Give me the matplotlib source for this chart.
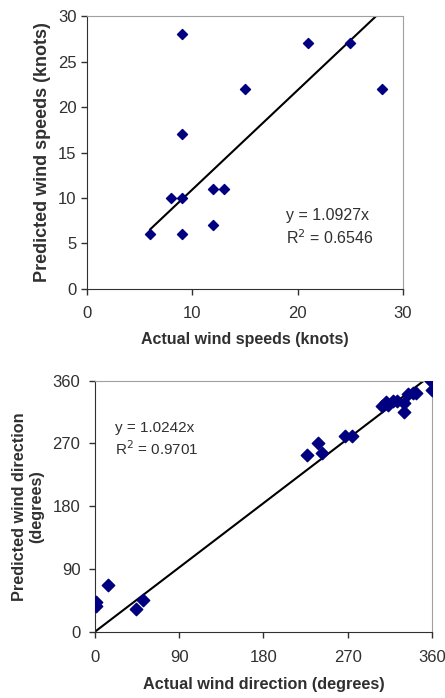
import matplotlib.pyplot as plt
import numpy as np

plt.rcParams['font.family'] = ['Liberation Sans', 'DejaVu Sans']

# wind speed (knots)
speed_actual = [9, 21, 25, 15, 28, 9, 8, 9, 12, 13, 6, 9, 12]
speed_pred = [28, 27, 27, 22, 22, 17, 10, 10, 11, 11, 6, 6, 7]
speed_slope = 1.0927
speed_r2 = 0.6546

# wind direction (degrees)
dir_actual = [0.7, 0.7, 13.5, 43.4, 51, 227, 238, 243, 266.7, 274.5, 307, 311,
              313.3, 318.7, 323, 330, 330, 335, 340, 342.6, 358.6, 360]
dir_pred = [42, 37, 67, 32, 45, 254, 271, 257, 280, 280, 324, 330,
            325, 331, 331, 327.5, 315.5, 341, 343, 343, 360, 346.6]
dir_slope = 1.0242
dir_r2 = 0.9701

fig = plt.figure(figsize=(4.45, 6.98), dpi=100)
ax1 = fig.add_axes([0.1955, 0.586, 0.710, 0.391])
ax2 = fig.add_axes([0.2135, 0.095, 0.757, 0.3596])

grey = '#303030'


def style(ax, xpad, ypad):
    for s in ['top', 'right']:
        ax.spines[s].set_color('#a0a0a0')
    for s in ['left', 'bottom']:
        ax.spines[s].set_color(grey)
    ax.tick_params(direction='out', length=4, width=1, color=grey,
                   labelsize=12, labelcolor=grey)
    ax.tick_params(axis='x', pad=xpad)
    ax.tick_params(axis='y', pad=ypad)


# speeds
ax1.scatter(speed_actual, speed_pred, marker='D', s=26, color='#000080', zorder=3)
xs = np.array([min(speed_actual), max(speed_actual)])
ax1.plot(xs, speed_slope * xs, color='black', lw=1.5)
ax1.set_xlim(0, 30)
ax1.set_ylim(0, 30)
ax1.set_xticks([0, 10, 20, 30])
ax1.set_yticks(range(0, 31, 5))
ax1.text(0.63, 0.271, 'y = %.4fx' % speed_slope, transform=ax1.transAxes,
         fontsize=11.5, color=grey, va='center')
ax1.text(0.63, 0.187, 'R$^2$ = %.4f' % speed_r2, transform=ax1.transAxes,
         fontsize=11.5, color=grey, va='center')
ax1.set_xlabel('Actual wind speeds (knots)', fontsize=11.5, fontweight='bold',
               color=grey, labelpad=8)
ax1.set_ylabel('Predicted wind speeds (knots)', fontsize=13, fontweight='bold',
               color=grey, labelpad=5)
style(ax1, 8, 3.5)

# directions
ax2.scatter(dir_actual, dir_pred, marker='D', s=40, color='#000080', zorder=3)
xd = np.array([0, max(dir_actual)])
ax2.plot(xd, dir_slope * xd, color='black', lw=1.5)
ax2.set_xlim(0, 360)
ax2.set_ylim(0, 360)
ax2.set_xticks(range(0, 361, 90))
ax2.set_yticks(range(0, 361, 90))
ax2.text(0.059, 0.810, 'y = %.4fx' % dir_slope, transform=ax2.transAxes,
         fontsize=11, color=grey, va='center')
ax2.text(0.059, 0.730, 'R$^2$ = %.4f' % dir_r2, transform=ax2.transAxes,
         fontsize=11, color=grey, va='center')
ax2.set_xlabel('Actual wind direction (degrees)', fontsize=11.7, fontweight='bold',
               color=grey, labelpad=9)
ax2.set_ylabel('Predicted wind direction\n(degrees)', fontsize=11.7, fontweight='bold',
               color=grey, labelpad=6)
style(ax2, 9, 6.5)

plt.savefig('out.png', dpi=100)
